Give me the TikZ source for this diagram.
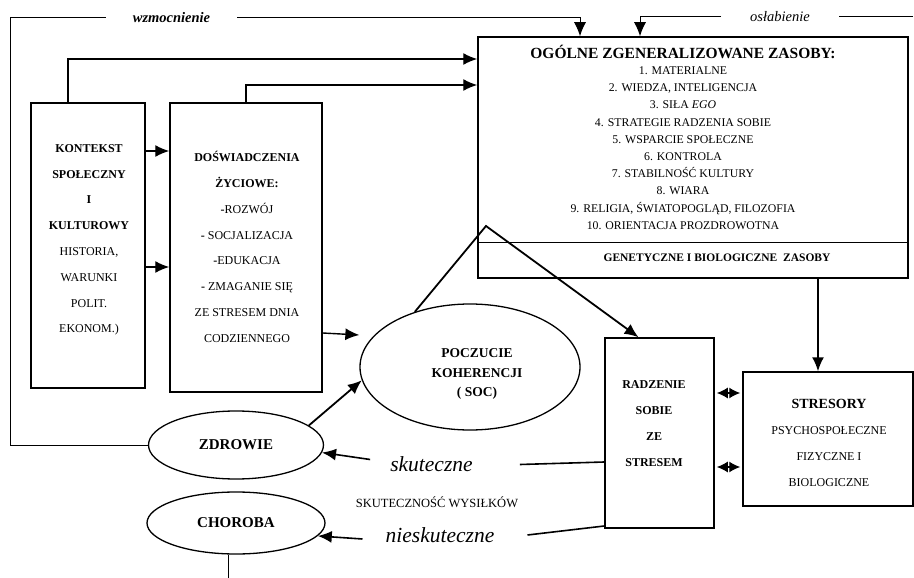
\documentclass[tikz,border=0pt]{standalone}
\usepackage{fontspec}
\setmainfont{Liberation Serif}
\usetikzlibrary{arrows.meta,shapes.geometric}

\begin{document}
\begin{tikzpicture}[x=1pt,y=-1pt,
  box/.style={draw=black,line width=1.5pt,inner sep=0pt},
  oval/.style={draw=black,line width=1.3pt,ellipse,inner sep=0pt},
  arr/.style={black,line width=1.4pt,-{Latex[length=14pt,width=12pt]}},
  dbl/.style={black,line width=1.4pt,{Latex[length=11pt,width=11pt]}-{Latex[length=11pt,width=11pt]},shorten <=2pt,shorten >=2pt},
  lbl/.style={align=center,inner sep=0pt,font=\fontsize{12}{25.8}\selectfont}]
\useasboundingbox (0,0) rectangle (914,578);

% ogolne zasoby
\node[box,minimum width=430,minimum height=241] (zas) at (693,157.5) {};
\node[inner sep=0pt,font=\fontsize{15.5}{18}\selectfont\bfseries] (zastyt) at (683,52) {OGÓLNE ZGENERALIZOWANE ZASOBY:};
\node[lbl,font=\fontsize{11.8}{17.2}\selectfont] (zaslist) at (683,148) {1. MATERIALNE\\2. WIEDZA, INTELIGENCJA\\3. SIŁA \textit{EGO}\\4. STRATEGIE RADZENIA SOBIE\\5. WSPARCIE SPOŁECZNE\\6. KONTROLA\\7. STABILNOŚĆ KULTURY\\8. WIARA\\9. RELIGIA, ŚWIATOPOGLĄD, FILOZOFIA\\10. ORIENTACJA PROZDROWOTNA};
\draw[line width=1pt] (zas.west |- 0,242) -- (zas.east |- 0,242);
\node[inner sep=0pt,font=\fontsize{11.5}{13}\selectfont\bfseries] (gen) at (717,258) {GENETYCZNE I BIOLOGICZNE\ \ ZASOBY};

% kontekst i doswiadczenia
\node[box,minimum width=114,minimum height=285] (kont) at (88,245.5) {};
\node[lbl] (konttxt) at (89,240) {\textbf{KONTEKST}\\\textbf{SPOŁECZNY}\\\textbf{I}\\\textbf{KULTUROWY}\\HISTORIA,\\WARUNKI\\POLIT.\\EKONOM.)};
\node[box,minimum width=152,minimum height=289] (dosw) at (246,247.5) {};
\node[lbl] (doswtxt) at (247,247) {\textbf{DOŚWIADCZENIA}\\\textbf{ŻYCIOWE:}\\\textbf{-}ROZWÓJ\\\textbf{-} SOCJALIZACJA\\\textbf{-}EDUKACJA\\\textbf{-} ZMAGANIE SIĘ\\ZE STRESEM DNIA\\CODZIENNEGO};

% soc, zdrowie, choroba
\node[oval,minimum width=220,minimum height=126] (soc) at (470,367) {};
\node[align=center,inner sep=0pt,font=\fontsize{13.5}{19.5}\selectfont\bfseries] (soctxt) at (477,374) {POCZUCIE\\KOHERENCJI\\( SOC)};
\node[oval,minimum width=175,minimum height=68,font=\fontsize{15}{18}\selectfont\bfseries] (zdr) at (236,445) {ZDROWIE};
\node[oval,minimum width=178,minimum height=62,font=\fontsize{15}{18}\selectfont\bfseries] (chor) at (236,523) {CHOROBA};

% radzenie i stresory
\node[box,minimum width=109,minimum height=190] (radz) at (659.5,433) {};
\node[lbl,font=\fontsize{12}{26}\selectfont\bfseries] (radztxt) at (654,424) {RADZENIE\\SOBIE\\ZE\\STRESEM};
\node[box,minimum width=170,minimum height=134] (stres) at (828,439) {};
\node[inner sep=0pt,font=\fontsize{14}{16}\selectfont\bfseries] (strestyt) at (829,404) {STRESORY};
\node[lbl,font=\fontsize{12}{26}\selectfont] (strestxt) at (829,457) {PSYCHOSPOŁECZNE\\FIZYCZNE I\\BIOLOGICZNE};

% skutecznosc
\node[inner sep=0pt,font=\fontsize{21.5}{24}\selectfont\itshape] (skut) at (431.5,464.5) {skuteczne};
\node[inner sep=0pt,font=\fontsize{12.5}{14}\selectfont] (wys) at (437,502) {SKUTECZNOŚĆ WYSIŁKÓW};
\node[inner sep=0pt,font=\fontsize{21.5}{24}\selectfont\itshape] (nies) at (440,535) {nieskuteczne};

% wzmocnienie / oslabienie
\node[inner sep=0pt,inner xsep=27pt,font=\fontsize{14.5}{16}\selectfont\bfseries\itshape] (wzm) at (171.5,18) {wzmocnienie};
\node[inner sep=0pt,inner xsep=29pt,font=\fontsize{14.5}{16}\selectfont\itshape] (osl) at (780,17) {osłabienie};
\coordinate (wzL) at (10,18);
\coordinate (oslR) at (913,17);
\coordinate (peak) at (486,226);
\coordinate (chBot) at (228,578);

\draw[line width=1pt] (zdr.west) -| (wzL) -- (wzm.west);
\draw[arr,line width=1pt] (wzm.east) -| (580,0 |- zas.north);
\draw[line width=1pt] (oslR) -- (osl.east);
\draw[arr,line width=1pt] (osl.west) -| (640,0 |- zas.north);

\draw[arr] ([xshift=-20pt]kont.north) |- (zas.west |- 0,59);
\draw[arr] (dosw.north) |- (zas.west |- 0,85);
\draw[arr] (kont.east |- 0,151) -- (dosw.west |- 0,151);
\draw[arr] (kont.east |- 0,267) -- (dosw.west |- 0,267);
\draw[arr] (dosw.east |- 0,333) -- (soc.west |- 0,335);
\draw[arr,line width=1.8pt] (zdr.15) -- (soc.187);
\draw[arr,line width=1.8pt] (soc.135) -- (peak) -- ([xshift=-21pt]radz.north);
\draw[arr,line width=1.6pt] (818,0 |- zas.south) -- (818,0 |- stres.north);
\draw[dbl] (radz.east |- 0,393) -- (stres.west |- 0,393);
\draw[dbl] (radz.east |- 0,467) -- (stres.west |- 0,467);

\draw[line width=1.6pt] (radz.west |- 0,462) -- ([xshift=47pt]skut.east);
\draw[arr,line width=1.6pt] ([shift={(-20,-5)}]skut.west) -- (zdr.-5);
\draw[line width=1.6pt] (radz.west |- 0,526) -- ([shift={(33,0)}]nies.east);
\draw[arr,line width=1.6pt] ([shift={(-23,4)}]nies.west) -- (chor.-9);
\draw[line width=1pt] (chBot |- chor.south) -- (chBot);
\end{tikzpicture}
\end{document}
